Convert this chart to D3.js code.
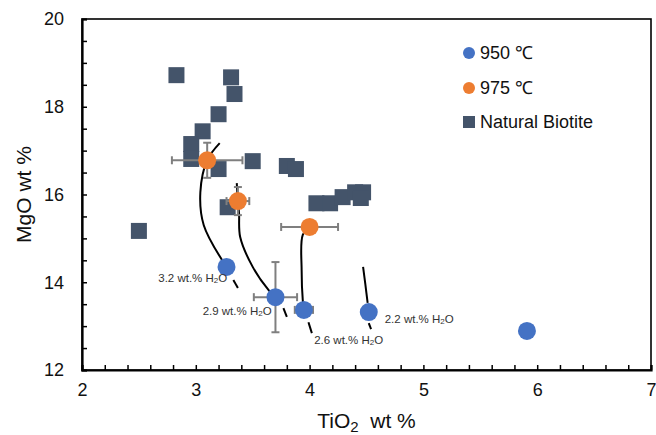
<!DOCTYPE html>
<html><head><meta charset="utf-8">
<script src="https://cdn.jsdelivr.net/npm/d3@7"></script>
<style>
html,body{margin:0;padding:0;background:#fff;}
svg{display:block;font-family:"Liberation Sans",Arial,sans-serif;}
</style></head>
<body><svg id="c" width="656" height="435"></svg>
<script>
// ---- data ----
const xTickValues = [2,3,4,5,6,7];
const yTickValues = [12,14,16,18,20];
const seriesNames = ["950 ℃","975 ℃","Natural Biotite"];
// Natural biotite [TiO2, MgO]
const biotite = [[2.83,18.72],[3.31,18.67],[3.34,18.29],[3.20,17.83],[3.06,17.44],[2.96,17.15],[2.96,16.81],
  [3.20,16.58],[3.50,16.76],[3.80,16.65],[3.88,16.58],[3.28,15.71],[2.50,15.17],
  [4.06,15.80],[4.18,15.80],[4.29,15.94],[4.40,16.05],[4.47,16.05],[4.45,15.92]];
// 975 C [TiO2, MgO, xErr, yErr]
const t975 = [[3.10,16.78,0.31,0.40],[3.37,15.85,0.10,0.32],[4.00,15.26,0.25,0]];
// 950 C [TiO2, MgO, xErr, yErr]
const t950 = [[3.27,14.35,0,0],[3.70,13.66,0.19,0.80],[3.95,13.37,0.08,0],[4.52,13.32,0,0],[5.91,12.89,0,0]];
// trajectory curves
const curves = [
  [[3.21,17.17],[3.10,16.78],[3.04,16.05],[3.07,15.30],[3.27,14.35]],
  [[3.36,16.26],[3.37,15.85],[3.38,15.58],[3.39,15.03],[3.50,14.35],[3.64,13.82],[3.70,13.66]],
  [[4.00,15.26],[3.94,15.08],[3.93,14.28],[3.94,13.59],[3.95,13.37]],
  [[4.47,14.35],[4.49,13.95],[4.51,13.53]]
];
const tails = [
  [[3.33,14.05],[3.37,13.87]],
  [[3.77,13.41],[3.80,13.21]],
  [[3.99,13.09],[4.02,12.84]],
  [[4.52,13.07],[4.54,12.93]]
];
const waterLabels = ["3.2","2.9","2.6","2.2"];
const waterLabelPos = [[2.67,14.0],[3.06,13.25],[4.04,12.6],[4.66,13.07]];

// ---- layout ----
const svg = d3.select("#c");
const L=82,R=651,T=19,B=370;
const x = d3.scaleLinear().domain([2,7]).range([L,R]);
const y = d3.scaleLinear().domain([12,20]).range([B,T]);
const blue="#4472C4", orange="#ED7D31", slate="#44546A", ebc="#7F7F7F";

// frame
svg.append("rect").attr("x",L).attr("y",T).attr("width",R-L).attr("height",B-T)
  .attr("fill","none").attr("stroke","#000").attr("stroke-width",1.6);

// minor ticks
const xMinor = d3.range(2,7.001,0.2);
svg.append("g").attr("transform",`translate(0,${B})`)
  .call(d3.axisBottom(x).tickValues(xMinor).tickSize(-5).tickFormat(""))
  .call(g=>{g.select(".domain").attr("stroke-width",2.2);g.selectAll(".tick line").attr("stroke-width",1.5);});
const yMinor = d3.range(12,20.001,0.5);
svg.append("g").attr("transform",`translate(${L},0)`)
  .call(d3.axisLeft(y).tickValues(yMinor).tickSize(-5).tickFormat(""))
  .call(g=>{g.select(".domain").attr("stroke-width",2.2);g.selectAll(".tick line").attr("stroke-width",1.5);});
// labels
svg.append("g").attr("transform",`translate(0,${B})`)
  .call(d3.axisBottom(x).tickValues(xTickValues).tickSize(0).tickPadding(13).tickFormat(d3.format("d")))
  .call(g=>{g.select(".domain").remove();g.selectAll("text").attr("font-size",18).attr("fill","#111").attr("font-family","Liberation Sans, Arial, sans-serif");});
svg.append("g").attr("transform",`translate(${L},0)`)
  .call(d3.axisLeft(y).tickValues(yTickValues).tickSize(0).tickPadding(18).tickFormat(d3.format("d")))
  .call(g=>{g.select(".domain").remove();g.selectAll("text").attr("font-size",18).attr("fill","#111").attr("font-family","Liberation Sans, Arial, sans-serif");});

// axis titles
const xt = svg.append("text").attr("x",(L+R)/2).attr("y",428).attr("text-anchor","middle")
  .attr("font-size",21).attr("fill","#111");
xt.append("tspan").text("TiO");
xt.append("tspan").text("2").attr("font-size",15).attr("dy",4);
xt.append("tspan").text("\u00a0 wt %").attr("dy",-4);
svg.append("text").attr("transform",`translate(31,${(T+B)/2}) rotate(-90)`).attr("text-anchor","middle")
  .attr("font-size",21).attr("fill","#111").text("MgO wt %");

// curves
const line = d3.line().x(d=>x(d[0])).y(d=>y(d[1])).curve(d3.curveCatmullRom.alpha(0.5));
svg.append("g").selectAll("path").data(curves.concat(tails)).join("path")
  .attr("d",line).attr("fill","none").attr("stroke","#000").attr("stroke-width",2);

// biotite squares
const sq=16;
svg.append("g").selectAll("rect").data(biotite).join("rect")
  .attr("x",d=>x(d[0])-sq/2).attr("y",d=>y(d[1])-sq/2).attr("width",sq).attr("height",sq)
  .attr("fill",slate);

// error bars
function errBars(data){
  const g=svg.append("g").attr("stroke",ebc).attr("stroke-width",2);
  data.forEach(d=>{
    if(d[2]>0){
      g.append("line").attr("x1",x(d[0]-d[2])).attr("x2",x(d[0]+d[2])).attr("y1",y(d[1])).attr("y2",y(d[1]));
      [d[0]-d[2],d[0]+d[2]].forEach(v=>g.append("line").attr("x1",x(v)).attr("x2",x(v)).attr("y1",y(d[1])-4).attr("y2",y(d[1])+4));
    }
    if(d[3]>0){
      g.append("line").attr("y1",y(d[1]-d[3])).attr("y2",y(d[1]+d[3])).attr("x1",x(d[0])).attr("x2",x(d[0]));
      [d[1]-d[3],d[1]+d[3]].forEach(v=>g.append("line").attr("y1",y(v)).attr("y2",y(v)).attr("x1",x(d[0])-4).attr("x2",x(d[0])+4));
    }
  });
}
errBars(t975); errBars(t950);
svg.append("g").selectAll("circle").data(t975).join("circle")
  .attr("cx",d=>x(d[0])).attr("cy",d=>y(d[1])).attr("r",9).attr("fill",orange);
svg.append("g").selectAll("circle").data(t950).join("circle")
  .attr("cx",d=>x(d[0])).attr("cy",d=>y(d[1])).attr("r",9).attr("fill",blue);

// water labels
waterLabels.forEach((w,i)=>{
  const t=svg.append("text").attr("x",x(waterLabelPos[i][0])).attr("y",y(waterLabelPos[i][1]))
    .attr("font-size",11.5).attr("fill","#333");
  t.append("tspan").text(w+" wt.% H");
  t.append("tspan").text("2").attr("font-size",8).attr("dy",1);
  t.append("tspan").text("O").attr("dy",-1);
});

// legend
const lg = svg.append("g");
const ly=[53,88,122];
lg.append("circle").attr("cx",469).attr("cy",ly[0]).attr("r",6).attr("fill",blue);
lg.append("circle").attr("cx",469).attr("cy",ly[1]).attr("r",6).attr("fill",orange);
lg.append("rect").attr("x",463).attr("y",ly[2]-6).attr("width",12).attr("height",12).attr("fill",slate);
seriesNames.forEach((s,i)=>lg.append("text").attr("x",480).attr("y",ly[i]).attr("dy","0.35em")
  .attr("font-size",18).attr("fill","#111").text(s));
</script></body></html>
